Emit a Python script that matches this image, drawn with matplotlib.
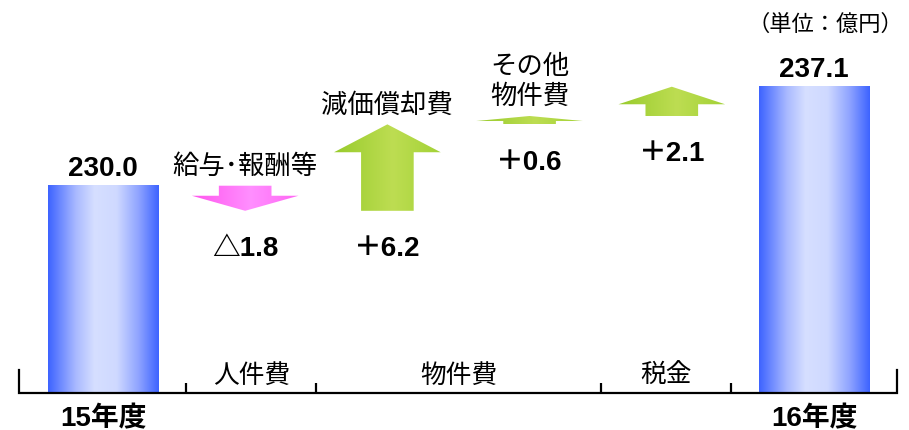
import numpy as np
import matplotlib
matplotlib.use("Agg")
import matplotlib.pyplot as plt
from matplotlib.colors import LinearSegmentedColormap
from matplotlib.patches import Polygon

plt.rcParams['font.family'] = ['Noto Sans CJK JP', 'DejaVu Sans']

# 人件費・物件費・税金の増減 (単位: 億円)
years = ['15年度', '16年度']
totals = [230.0, 237.1]
items = ['給与･報酬等', '減価償却費', 'その他\n物件費', '']
changes = [-1.8, 6.2, 0.6, 2.1]
change_labels = ['△1.8', '＋6.2', '＋0.6', '＋2.1']
groups = ['人件費', '物件費', '税金']

num_font = ['Liberation Sans', 'Noto Sans CJK JP']

blue = LinearSegmentedColormap.from_list('bar', [(0, '#3d63ff'), (0.25, '#a9b9ff'), (0.42, '#d6dfff'),
                                                 (0.62, '#cfd9ff'), (0.82, '#8ea3ff'), (1, '#3d63ff')])
green = LinearSegmentedColormap.from_list('up', [(0, '#98cb2c'), (0.55, '#bddd52'), (1, '#a3d236')])
pink = LinearSegmentedColormap.from_list('down', [(0, '#ff55ee'), (0.55, '#ff8fff'), (1, '#ff66f4')])
grad = np.linspace(0, 1, 256).reshape(1, -1)

fig = plt.figure(figsize=(9.09, 4.31), dpi=100)
ax = fig.add_axes([0, 0, 1, 1])
ax.axis('off')

ybase = 215.1
bar_w = 0.774
head_w = 0.75
shaft_w = 0.37
gap = 0.2
pos = np.arange(len(changes) + 2)

# start and end bars
for i, (x, v) in enumerate(zip([pos[0], pos[-1]], totals)):
    ax.imshow(grad, cmap=blue, extent=(x - bar_w / 2, x + bar_w / 2, ybase, v),
              aspect='auto', interpolation='bilinear', zorder=2)
    ax.annotate(f'{v:.1f}', (x, v), xytext=(0, 13), textcoords='offset points',
                ha='center', va='center', fontsize=20, fontweight='bold', family=num_font)
    ax.annotate(years[i], (x, ybase), xytext=(0, -18), textcoords='offset points',
                ha='center', va='center', fontsize=20, fontweight='bold', family=num_font)

# waterfall arrows
level = totals[0]
for k, d in enumerate(changes):
    x = pos[k + 1]
    y0, y1 = level, level + d
    s = np.sign(d)
    hl = min(0.6 * abs(d), 2.0)
    yh = y1 - s * hl
    pts = [(x - shaft_w / 2, y0), (x + shaft_w / 2, y0), (x + shaft_w / 2, yh), (x + head_w / 2, yh),
           (x, y1), (x - head_w / 2, yh), (x - shaft_w / 2, yh)]
    poly = Polygon(pts, closed=True, facecolor='none', edgecolor='none')
    ax.add_patch(poly)
    im = ax.imshow(grad, cmap=green if d > 0 else pink,
                   extent=(x - head_w / 2, x + head_w / 2, min(y0, y1), max(y0, y1)),
                   aspect='auto', interpolation='bilinear', zorder=2)
    im.set_clip_path(poly)
    ax.annotate(change_labels[k], (x, min(y0, y1)), xytext=(0, -27), textcoords='offset points',
                ha='center', va='center', fontsize=20, fontweight='bold', family=num_font)
    if items[k]:
        ax.annotate(items[k], (x, max(y0, y1)), xytext=(0, 5), textcoords='offset points',
                    ha='center', va='bottom', fontsize=19, linespacing=1.15)
    level = y1

# baseline with group separators
x_left = pos[0] - bar_w / 2 - gap
x_right = pos[-1] + bar_w / 2 + gap
ax.plot([x_left, x_left, x_right, x_right], [ybase + 1.65, ybase, ybase, ybase + 1.65],
        color='black', lw=1.6, solid_joinstyle='miter', zorder=3)
bounds = [pos[0] + bar_w / 2 + gap, 1.5, 3.5, pos[-1] - bar_w / 2 - gap]
ax.vlines(bounds, ybase, ybase + 0.72, color='black', lw=1.6, zorder=3)
for g, name in enumerate(groups):
    ax.annotate(name, ((bounds[g] + bounds[g + 1]) / 2, ybase), xytext=(0, 13),
                textcoords='offset points', ha='center', va='center', fontsize=18.5)

ax.text(0.908, 0.944, '（単位：億円）', transform=ax.transAxes, ha='center', va='center', fontsize=16)

ax.set_xlim(-0.724, 5.668)
ax.set_ylim(212.48, 243.39)

fig.savefig('out.png', dpi=100)
